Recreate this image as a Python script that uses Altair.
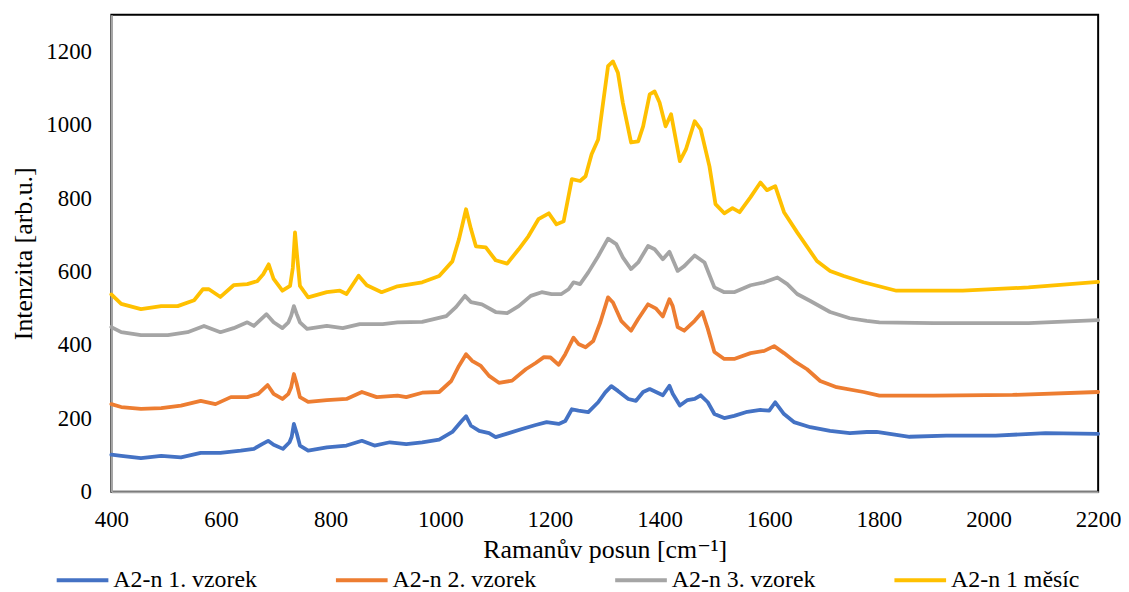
import altair as alt
import pandas as pd

series_names = ["A2-n 1. vzorek", "A2-n 2. vzorek", "A2-n 3. vzorek", "A2-n 1 měsíc"]
series_colors = ["#4472C4", "#ED7D31", "#A5A5A5", "#FFC000"]

x_ticks = [400, 600, 800, 1000, 1200, 1400, 1600, 1800, 2000, 2200]
y_ticks = [0, 200, 400, 600, 800, 1000, 1200]

# A2-n 1. vzorek (blue)
x_s1 = [400, 418, 454, 491, 527, 563, 599, 636, 660, 675, 686, 696, 713, 725, 729, 733, 738, 744,
        759, 793, 829, 857, 880, 908, 938, 967, 998, 1022, 1039, 1047, 1056, 1071, 1089, 1101, 1125,
        1149, 1174, 1194, 1216, 1228, 1240, 1252, 1270, 1288, 1301, 1312, 1324, 1343, 1357, 1370,
        1382, 1406, 1418, 1424, 1437, 1451, 1464, 1475, 1488, 1500, 1518, 1536, 1560, 1584, 1600,
        1611, 1627, 1645, 1675, 1711, 1747, 1778, 1796, 1856, 1923, 2013, 2104, 2200]
y_s1 = [101, 98, 92, 98, 94, 106, 106, 112, 117, 130, 139, 128, 117, 135, 150, 185, 160, 126,
        112, 121, 126, 139, 126, 135, 130, 135, 142, 163, 193, 206, 180, 166, 160, 149, 160,
        171, 182, 190, 185, 193, 225, 221, 217, 244, 271, 288, 275, 253, 248, 272,
        280, 263, 289, 267, 235, 250, 253, 263, 244, 212, 201, 207, 218, 223, 221,
        244, 212, 190, 176, 166, 160, 163, 163, 150, 153, 153, 160, 158]

# A2-n 2. vzorek (orange)
x_s2 = [400, 418, 454, 491, 527, 563, 590, 618, 648, 668, 685, 696, 712, 723, 728, 733, 738, 744,
        759, 793, 829, 857, 884, 922, 938, 967, 998, 1020, 1034, 1047, 1058, 1074, 1089, 1107,
        1131, 1156, 1174, 1189, 1201, 1216, 1228, 1243, 1252, 1265, 1279, 1292, 1306, 1315, 1330,
        1348, 1361, 1379, 1393, 1406, 1418, 1424, 1433, 1445, 1464, 1478, 1488, 1500, 1518, 1536,
        1566, 1591, 1609, 1627, 1645, 1669, 1693, 1723, 1772, 1801, 1900, 2044, 2200]
y_s2 = [239, 231, 226, 228, 235, 248, 239, 258, 258, 267, 291, 267, 253, 267, 285, 321, 295, 258,
        245, 250, 253, 272, 258, 262, 258, 270, 272, 302, 343, 375, 357, 343, 316, 297,
        303, 334, 351, 367, 366, 346, 375, 420, 403, 394, 411, 462, 530, 516, 466,
        439, 471, 511, 500, 478, 525, 506, 449, 439, 466, 490, 444, 381, 362, 362,
        378, 384, 397, 378, 357, 334, 302, 285, 272, 262, 262, 264, 272]

# A2-n 3. vzorek (gray)
x_s3 = [400, 418, 454, 503, 539, 569, 599, 623, 648, 660, 683, 696, 712, 723, 728, 733, 738, 744,
        757, 793, 822, 853, 895, 922, 967, 1011, 1029, 1045, 1056, 1076, 1101, 1122, 1143, 1165,
        1185, 1203, 1221, 1234, 1243, 1255, 1270, 1288, 1306, 1321, 1333, 1348, 1361, 1379, 1391,
        1406, 1418, 1433, 1445, 1464, 1482, 1500, 1518, 1536, 1566, 1591, 1615, 1633, 1651, 1675,
        1711, 1747, 1778, 1801, 1900, 2000, 2073, 2200]
y_s3 = [449, 435, 427, 427, 435, 452, 435, 446, 462, 452, 484, 462, 446, 462, 480, 506, 485, 462,
        444, 452, 446, 457, 457, 462, 463, 479, 504, 534, 517, 511, 490, 487, 506, 534,
        544, 539, 539, 552, 571, 566, 598, 642, 690, 675, 639, 607, 625, 670, 661,
        634, 654, 602, 615, 644, 625, 557, 544, 544, 563, 571, 584, 566, 539, 520,
        490, 473, 466, 462, 460, 460, 460, 468]

# A2-n 1 měsíc (yellow)
x_s4 = [400, 418, 454, 491, 521, 551, 567, 578, 599, 623, 648, 666, 677, 687, 696, 712, 726, 731,
        735, 739, 744, 759, 793, 817, 829, 851, 866, 893, 922, 967, 998, 1022, 1034, 1047, 1056,
        1065, 1083, 1101, 1122, 1143, 1161, 1179, 1198, 1212, 1225, 1240, 1255, 1265, 1276, 1288,
        1297, 1306, 1315, 1324, 1333, 1348, 1361, 1370, 1382, 1391, 1400, 1411, 1421, 1437, 1448,
        1464, 1475, 1491, 1502, 1518, 1533, 1546, 1566, 1584, 1596, 1611, 1627, 1651, 1687, 1711,
        1736, 1772, 1832, 1953, 2073, 2200]
y_s4 = [538, 512, 498, 506, 506, 522, 552, 552, 531, 563, 566, 574, 593, 620, 580, 548, 561, 610,
        707, 640, 561, 530, 544, 548, 539, 589, 563, 544, 560, 571, 588, 628, 688, 770, 716,
        669, 666, 631, 622, 661, 697, 743, 759, 729, 737, 852, 847, 860, 920, 960,
        1060, 1160, 1173, 1142, 1060, 952, 955, 996, 1083, 1091, 1061, 996, 1029, 901, 933,
        1010, 988, 887, 784, 759, 773, 762, 803, 843, 822, 833, 762, 707, 629, 602,
        588, 571, 548, 548, 557, 572]

rows = []
for name, xs, ys in zip(series_names, [x_s1, x_s2, x_s3, x_s4], [y_s1, y_s2, y_s3, y_s4]):
    for xv, yv in zip(xs, ys):
        rows.append({"posun": xv, "intenzita": yv, "serie": name})
df = pd.DataFrame(rows)

FONT = "Liberation Serif, Times New Roman, DejaVu Serif, serif"

chart = alt.Chart(df).mark_line(strokeWidth=3.8, strokeJoin="round", strokeCap="round").encode(
    x=alt.X("posun:Q",
            scale=alt.Scale(domain=[400, 2200], nice=False, zero=False),
            axis=alt.Axis(values=x_ticks, title="Ramanův posun [cm⁻¹]", labelPadding=17,
                          titlePadding=5, format="d", labelFlush=False)),
    y=alt.Y("intenzita:Q",
            scale=alt.Scale(domain=[0, 1300], nice=False),
            axis=alt.Axis(values=y_ticks, title="Intenzita [arb.u.]", labelPadding=20,
                          titlePadding=9, format="d", labelFlush=False)),
    color=alt.Color("serie:N",
                    scale=alt.Scale(domain=series_names, range=series_colors),
                    legend=alt.Legend(orient="none", legendX=-57, legendY=541,
                                      direction="horizontal", columns=4, columnPadding=71,
                                      symbolType="stroke", symbolSize=2704,
                                      symbolStrokeWidth=4, labelOffset=3,
                                      labelFont=FONT, labelFontSize=24, labelColor="black",
                                      title=None)),
    order=alt.Order("posun:Q"),
).properties(
    width=993, height=480,
    padding={"left": 3, "top": 5, "right": 0, "bottom": 0},
).configure_view(
    stroke="black", strokeWidth=2
).configure_axis(
    domainColor="#A6A6A6", domainWidth=2, ticks=False, grid=False,
    labelFont=FONT, labelFontSize=23, labelColor="black",
    titleFont=FONT, titleFontSize=26, titleFontWeight="normal", titleColor="black",
)

chart.save("out.html", embed_options={"renderer": "svg", "actions": False})
